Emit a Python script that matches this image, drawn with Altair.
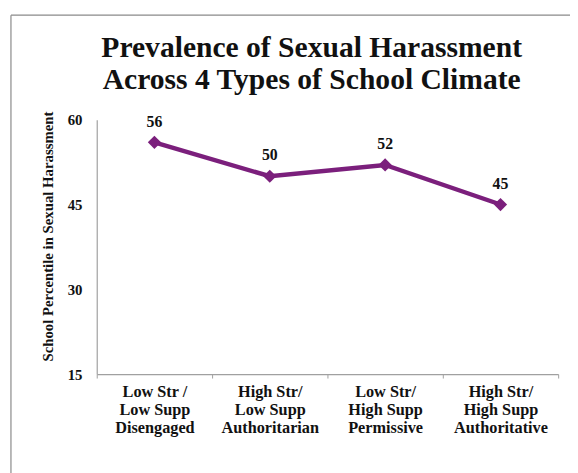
import altair as alt
import pandas as pd

categories = [
    "Low Str /|Low Supp|Disengaged",
    "High Str/|Low Supp|Authoritarian",
    "Low Str/|High Supp|Permissive",
    "High Str/|High Supp|Authoritative",
]
values = [56, 50, 52, 45]
y_ticks = [15, 30, 45, 60]
title_lines = ["Prevalence of Sexual Harassment", "Across 4 Types of School Climate"]

df = pd.DataFrame({"climate": categories, "pct": values})

FONT = "Liberation Serif"
PURPLE = "#7B1F7C"

x_enc = alt.X(
    "climate:N",
    sort=None,
    scale=alt.Scale(type="band", paddingInner=0, paddingOuter=0),
    axis=alt.Axis(
        title=None,
        labelAngle=0,
        labelExpr="split(datum.label, '|')",
        labelFont=FONT,
        labelFontSize=16.5,
        labelFontWeight="bold",
        labelColor="#111111",
        labelLineHeight=18,
        labelPadding=19,
        labelBaseline="alphabetic",
        tickBand="extent",
        tickSize=4,
        tickColor="#a0a0a0",
        domainColor="#a0a0a0",
        domainWidth=1.2,
        grid=False,
    ),
)
y_enc = alt.Y(
    "pct:Q",
    scale=alt.Scale(domain=[15, 60], nice=False, zero=False),
    axis=alt.Axis(
        title="School Percentile in Sexual Harassment",
        titleFont=FONT,
        titleFontSize=15,
        titleFontWeight="bold",
        titleColor="#111111",
        titleX=-45,
        titleY=118,
        titleBaseline="alphabetic",
        values=y_ticks,
        labelFont=FONT,
        labelFontSize=15,
        labelFontWeight="bold",
        labelColor="#111111",
        labelPadding=15,
        ticks=False,
        domainColor="#a0a0a0",
        domainWidth=1.2,
        grid=False,
    ),
)

base = alt.Chart(df).encode(x=x_enc, y=y_enc)

line = base.mark_line(
    color=PURPLE,
    strokeWidth=4.5,
    point=alt.OverlayMarkDef(shape="diamond", size=180, filled=True, color=PURPLE, opacity=1),
)

labels = base.mark_text(
    font=FONT, fontSize=16, fontWeight="bold", color="#111111",
    baseline="alphabetic", dy=-16,
).encode(text="pct:Q")

frame_df = pd.DataFrame({"k": [0]})
left_border = alt.Chart(frame_df).mark_rule(color="#8a8a8a", strokeWidth=1.2).encode(
    x=alt.value(-87), y=alt.value(-106), y2=alt.value(400)
)
top_border = alt.Chart(frame_df).mark_rule(color="#8a8a8a", strokeWidth=1.2).encode(
    x=alt.value(-87), x2=alt.value(500), y=alt.value(-106)
)
title = alt.Chart(frame_df).mark_text(
    text=title_lines,
    font=FONT, fontSize=30, fontWeight="bold", color="#111111",
    align="center", baseline="alphabetic", lineHeight=33,
).encode(x=alt.value(218), y=alt.value(-64))

chart = alt.layer(left_border, top_border, title, line, labels).properties(
    width=468,
    height=258,
    padding={"left": 90, "top": 110, "right": 12, "bottom": 97},
    autosize=alt.AutoSizeParams(type="none"),
).configure_view(stroke=None)

chart.save("out.html", embed_options={"renderer": "svg", "actions": False})
